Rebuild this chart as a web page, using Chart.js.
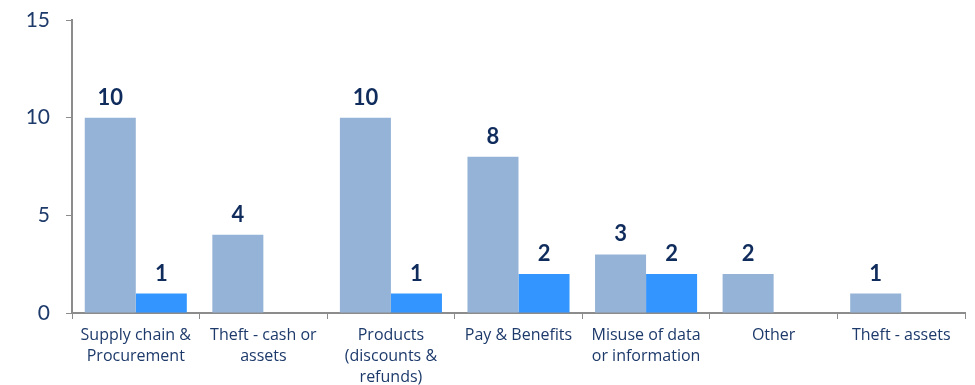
<!DOCTYPE html>
<html>
<head>
<meta charset="utf-8">
<script src="https://cdn.jsdelivr.net/npm/chart.js@4/dist/chart.umd.min.js"></script>
<style>
  html, body { margin: 0; padding: 0; background: #fff; }
  #wrap { width: 975px; height: 385px; position: relative; }
</style>
</head>
<body>
<div id="wrap"><canvas id="chart"></canvas></div>
<script>
// categories and values
const categories = [
  ["Supply chain &", "Procurement"],
  ["Theft - cash or", "assets"],
  ["Products", "(discounts &", "refunds)"],
  "Pay & Benefits",
  ["Misuse of data", "or information"],
  "Other",
  "Theft - assets"
];
const seriesA = [10, 4, 10, 8, 3, 2, 1];
const seriesB = [1, null, 1, 2, 2, null, null];
const yTicks = [0, 5, 10, 15];

const navy = "#1d3a6b";
const axisGrey = "#8c8c8c";

// value labels above the bars
const barLabels = {
  id: "barLabels",
  afterDatasetsDraw(chart) {
    const ctx = chart.ctx;
    ctx.save();
    ctx.font = "bold 22px Lato";
    ctx.fillStyle = "#102c5c";
    ctx.textAlign = "center";
    ctx.textBaseline = "bottom";
    chart.data.datasets.forEach((ds, i) => {
      chart.getDatasetMeta(i).data.forEach((bar, j) => {
        const v = ds.data[j];
        if (v == null) return;
        ctx.fillText(String(v), bar.x, bar.y - 9);
      });
    });
    ctx.restore();
  }
};

new Chart(document.getElementById("chart"), {
  type: "bar",
  data: {
    labels: categories,
    datasets: [
      { data: seriesA, backgroundColor: "#95b3d7" },
      { data: seriesB, backgroundColor: "#3395ff" }
    ]
  },
  options: {
    responsive: true,
    maintainAspectRatio: false,
    animation: false,
    events: [],
    layout: { padding: { top: 20, right: 10, left: 0, bottom: 0 } },
    plugins: { legend: { display: false }, tooltip: { enabled: false } },
    datasets: { bar: { categoryPercentage: 0.8, barPercentage: 1 } },
    scales: {
      x: {
        afterFit(axis) { axis.height = 72; },
        grid: { drawOnChartArea: false, color: axisGrey, tickLength: 6, offset: true },
        border: { color: axisGrey, width: 2 },
        ticks: {
          color: navy, autoSkip: false, maxRotation: 0, padding: 6,
          font: { family: "Open Sans", size: 16, lineHeight: 1.3 }
        }
      },
      y: {
        min: 0, max: 15,
        afterBuildTicks(axis) { axis.ticks = yTicks.map(v => ({ value: v })); },
        afterFit(axis) { axis.width = 72; axis.paddingTop = 0; },
        grid: { drawOnChartArea: false, color: axisGrey, tickLength: 6 },
        border: { color: axisGrey, width: 2 },
        ticks: {
          color: navy, padding: 16,
          font: { family: "Lato", size: 21 }
        }
      }
    }
  },
  plugins: [barLabels]
});
</script>
</body>
</html>
